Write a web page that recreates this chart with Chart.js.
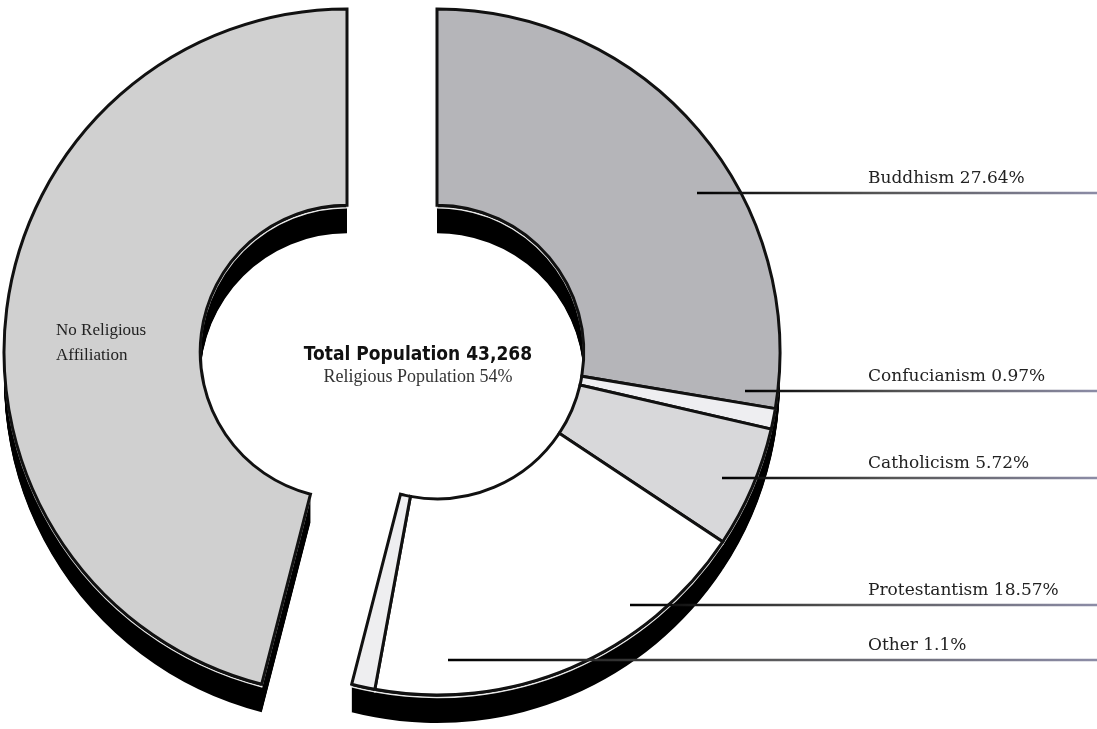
<!DOCTYPE html>
<html>
<head>
<meta charset="utf-8">
<script src="https://cdn.jsdelivr.net/npm/chart.js@4"></script>
<style>
  body { margin: 0; background: #fff; }
  #wrap { width: 1097px; height: 729px; position: relative; }
</style>
</head>
<body>
<div id="wrap"><canvas id="religionChart"></canvas></div>
<script>
// data
const categories = ['Buddhism', 'Confucianism', 'Catholicism', 'Protestantism', 'Other', 'No Religious Affiliation'];
const shares = [27.64, 0.97, 5.72, 18.57, 1.1, 46];
const totalPopulation = 43268;
const religiousShare = 54;

const sliceColors = ['#b5b5b9', '#eeeef1', '#d8d8da', '#ffffff', '#eeeef0', '#d0d0d0'];

// where the callout rows sit (y of rule, x where rule starts)
const calloutRows = [
  { y: 193, x0: 697 },
  { y: 391, x0: 745 },
  { y: 478, x0: 722 },
  { y: 605, x0: 630 },
  { y: 660, x0: 448 }
];
const explode = 45;   // right group pushed right, left slice pushed left
const depth = 28;     // black extrusion under the ring

function sliceShift(i) {
  return categories[i] === 'No Religious Affiliation' ? -explode : explode;
}

function sectorPath(ctx, arc, dx, dy) {
  ctx.beginPath();
  ctx.arc(arc.x + dx, arc.y + dy, arc.outerRadius, arc.startAngle, arc.endAngle);
  ctx.arc(arc.x + dx, arc.y + dy, arc.innerRadius, arc.endAngle, arc.startAngle, true);
  ctx.closePath();
}

const ringPlugin = {
  id: 'ring3d',
  beforeDatasetsDraw(chart) {
    const ctx = chart.ctx;
    const arcs = chart.getDatasetMeta(0).data;
    // extrusion first, then faces on top
    ctx.save();
    ctx.fillStyle = '#000';
    arcs.forEach((arc, i) => {
      for (let s = 1; s <= depth; s++) {
        sectorPath(ctx, arc, sliceShift(i), s);
        ctx.fill();
      }
    });
    // thin light rim between face and extrusion
    ctx.strokeStyle = '#e8e8e8';
    ctx.lineWidth = 1.5;
    arcs.forEach((arc, i) => {
      sectorPath(ctx, arc, sliceShift(i), 2.5);
      ctx.stroke();
    });
    ctx.restore();
    arcs.forEach((arc, i) => {
      ctx.save();
      ctx.translate(sliceShift(i), 0);
      arc.draw(ctx);
      ctx.restore();
    });
    return false;
  },
  afterDraw(chart) {
    const ctx = chart.ctx;
    const arcs = chart.getDatasetMeta(0).data;
    const cx = arcs[0].x, cy = arcs[0].y;

    // centre text
    ctx.save();
    ctx.textAlign = 'center';
    ctx.textBaseline = 'middle';
    ctx.fillStyle = '#111';
    ctx.font = 'bold 19px "Liberation Sans Narrow", "DejaVu Sans Condensed", sans-serif';
    ctx.fillText('Total Population ' + totalPopulation.toLocaleString('en-US'), cx + 26, cy + 3);
    ctx.fillStyle = '#333';
    ctx.font = '18px "Liberation Serif", serif';
    ctx.fillText('Religious Population ' + religiousShare + '%', cx + 26, cy + 25);

    // label inside the big slice
    const last = categories.length - 1;
    const p = arcs[last].getCenterPoint();
    const words = categories[last].split(' ');
    ctx.textAlign = 'left';
    ctx.fillStyle = '#222';
    ctx.font = '17px "Liberation Serif", serif';
    const lx = p.x + sliceShift(last) - 48;
    ctx.fillText(words.slice(0, 2).join(' '), lx, p.y + 9);
    ctx.fillText(words.slice(2).join(' '), lx, p.y + 34);

    // callouts on the right
    calloutRows.forEach((row, i) => {
      const g = ctx.createLinearGradient(row.x0, 0, chart.width, 0);
      g.addColorStop(0, '#000');
      g.addColorStop(0.45, '#555');
      g.addColorStop(1, '#8c8ca6');
      ctx.strokeStyle = g;
      ctx.lineWidth = 2.5;
      ctx.beginPath();
      ctx.moveTo(row.x0, row.y);
      ctx.lineTo(chart.width, row.y);
      ctx.stroke();

      ctx.fillStyle = '#222';
      ctx.font = '17px "DejaVu Serif", serif';
      ctx.textBaseline = 'alphabetic';
      ctx.fillText(categories[i] + ' ' + shares[i] + '%', 868, row.y - 10);
    });
    ctx.restore();
  }
};

new Chart(document.getElementById('religionChart'), {
  type: 'doughnut',
  data: {
    labels: categories,
    datasets: [{
      data: shares,
      backgroundColor: sliceColors,
      borderColor: '#111',
      borderWidth: 3,
      borderJoinStyle: 'miter'
    }]
  },
  options: {
    responsive: true,
    maintainAspectRatio: false,
    animation: false,
    rotation: 0,
    radius: 343,
    cutout: 150,
    layout: { padding: { left: 0, top: 0, right: 313, bottom: 25 } },
    plugins: {
      legend: { display: false },
      tooltip: { enabled: false }
    }
  },
  plugins: [ringPlugin]
});
</script>
</body>
</html>
